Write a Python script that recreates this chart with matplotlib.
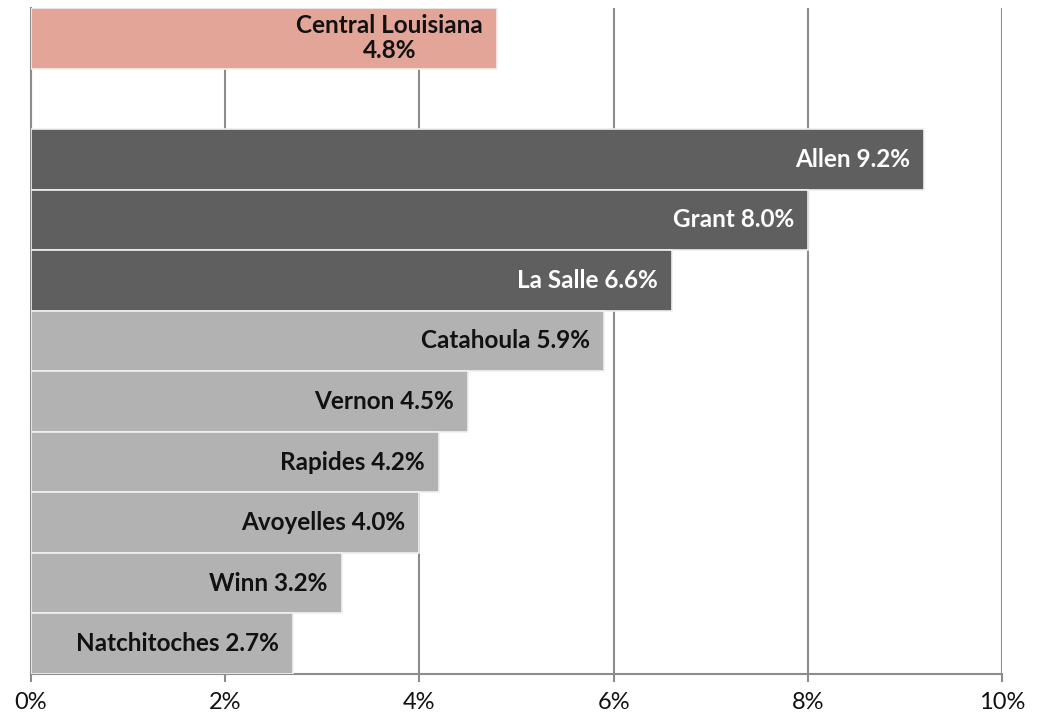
import matplotlib
matplotlib.use("Agg")
import matplotlib.pyplot as plt
from matplotlib.ticker import FuncFormatter

categories = ["Central Louisiana", "", "Allen", "Grant", "La Salle", "Catahoula",
              "Vernon", "Rapides", "Avoyelles", "Winn", "Natchitoches"]
values = [4.8, None, 9.2, 8.0, 6.6, 5.9, 4.5, 4.2, 4.0, 3.2, 2.7]
colors = ["#E3A598", None, "#5F5F5F", "#5F5F5F", "#5F5F5F", "#B2B2B2",
          "#B2B2B2", "#B2B2B2", "#B2B2B2", "#B2B2B2", "#B2B2B2"]
text_colors = ["#111111", None, "white", "white", "white", "#111111",
               "#111111", "#111111", "#111111", "#111111", "#111111"]
xticks = [0, 2, 4, 6, 8, 10]

plt.rcParams['font.family'] = ['Lato', 'DejaVu Sans']

fig = plt.figure(figsize=(10.48, 7.17), dpi=100)
ax = fig.add_axes([31/1048, (717-674)/717, (1002-31)/1048, (674-8)/717])

for i, (cat, v, c, tc) in enumerate(zip(categories, values, colors, text_colors)):
    if v is None:
        continue
    ax.barh(i, v, height=1.0, color=c, edgecolor="#f0f0f0", linewidth=1.2, zorder=3)
    if i == 0:
        label = f"{cat}\n{v:.1f}%"
    else:
        label = f"{cat} {v:.1f}%"
    ax.annotate(label, xy=(v, i), xytext=(-10, 0), textcoords="offset points",
                ha="right", va="center", multialignment="center",
                fontsize=17.5, fontweight="bold", color=tc, zorder=4,
                linespacing=1.1)

ax.set_xlim(0, 10)
ax.set_ylim(len(categories) - 0.5, -0.5)
ax.set_xticks(xticks)
ax.xaxis.set_major_formatter(FuncFormatter(lambda x, p: f"{x:.0f}%"))
ax.set_yticks([])
ax.grid(axis="x", color="#8C8C8C", linewidth=1.5, zorder=0)
ax.set_axisbelow(True)
for s in ["top", "right"]:
    ax.spines[s].set_visible(False)
ax.spines["left"].set_color("#8C8C8C")
ax.spines["left"].set_linewidth(1.5)
ax.spines["bottom"].set_color("#8C8C8C")
ax.spines["bottom"].set_linewidth(1.5)
ax.tick_params(axis="x", length=6, width=1.5, color="#8C8C8C", labelsize=17, pad=7,
               labelcolor="#111111")

fig.savefig("out.png", dpi=100)
